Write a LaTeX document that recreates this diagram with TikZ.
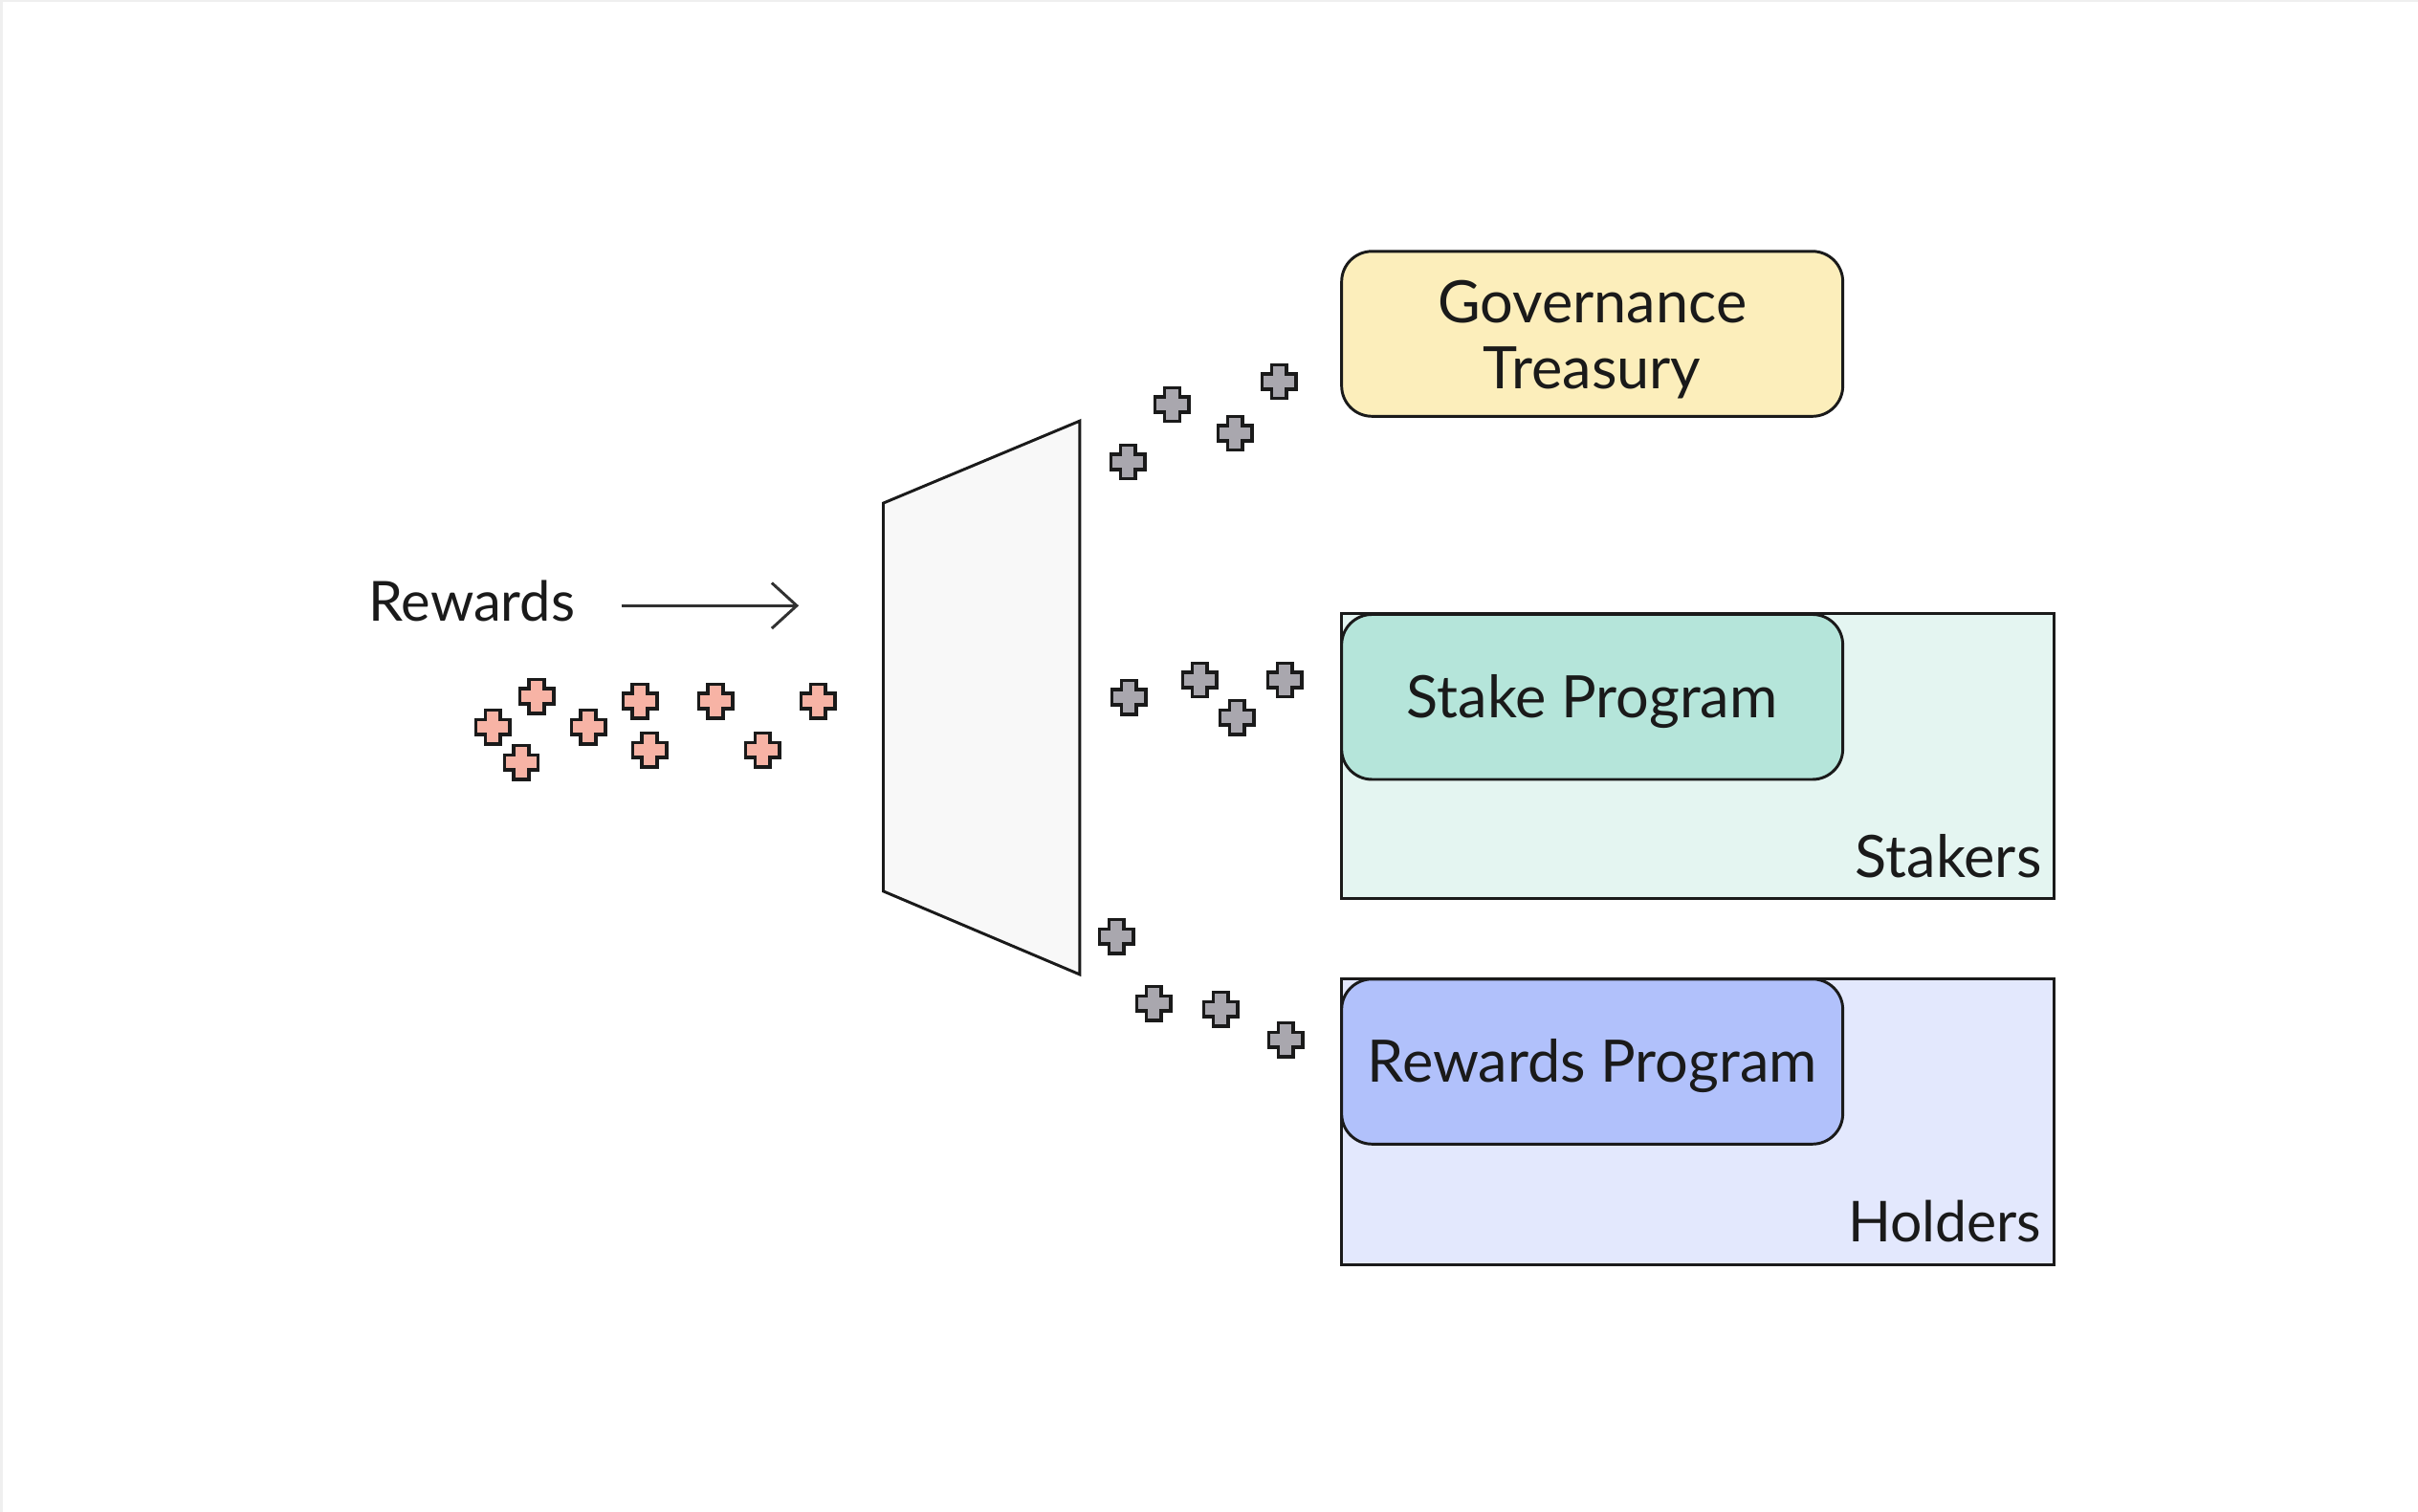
\documentclass[tikz,border=0pt]{standalone}
\usepackage{fontspec}
\setmainfont{Lato}
\usetikzlibrary{arrows.meta}
\definecolor{ink}{HTML}{1A1A1A}
\definecolor{govfill}{HTML}{FCEEBB}
\definecolor{stkouter}{HTML}{E4F5F1}
\definecolor{stkinner}{HTML}{B5E5DA}
\definecolor{holdouter}{HTML}{E3E8FD}
\definecolor{holdinner}{HTML}{B1C1FB}
\definecolor{trapfill}{HTML}{F8F8F8}
\definecolor{redtokfill}{HTML}{F7B3A5}
\definecolor{graytokfill}{HTML}{A9A7AE}
\definecolor{framegray}{HTML}{EFEFEF}
\newcommand{\uu}{1.42264pt}
\tikzset{
  tok/.pic={\path[pic actions] (-4.9,-11) -- (4.9,-11) -- (4.9,-4.9) -- (11,-4.9) -- (11,4.9) -- (4.9,4.9) -- (4.9,11) -- (-4.9,11) -- (-4.9,4.9) -- (-11,4.9) -- (-11,-4.9) -- (-4.9,-4.9) -- cycle;},
  redtok/.style={draw=ink, fill=redtokfill, line width=3pt, line join=miter},
  graytok/.style={draw=ink, fill=graytokfill, line width=3pt, line join=miter},
  progbox/.style={draw=ink, line width=2.6pt, rounded corners=28pt, minimum width=325*\uu, minimum height=107*\uu, inner sep=0pt},
  progtext/.style={inner sep=0pt, align=center, text=ink, font=\fontsize{54pt}{61pt}\selectfont},
  groupbox/.style={draw=ink, line width=2.6pt, minimum width=462*\uu, minimum height=185*\uu, inner sep=0pt},
  lbl/.style={inner sep=0pt, text=ink, font=\fontsize{54pt}{60pt}\selectfont},
  flowarrow/.style={draw=ink!90, line width=2.6pt, -{Straight Barb[length=23pt, width=42pt, line width=2.6pt]}}
}
\begin{document}
\begin{tikzpicture}[x=0.05cm, y=-0.05cm]
\useasboundingbox (0,0) rectangle (1568,980.6);
\fill[white] (0,0) rectangle (1568,980.6);
\fill[framegray] (0,0) rectangle (1.9,980.6);
\fill[framegray] (0,0) rectangle (1568,1.1);

% splitter
\draw[ink, fill=trapfill, line width=2.6pt, line join=miter] (572.8,326.3) -- (700.2,273) -- (700.2,632) -- (572.8,578) -- cycle;

% input label and arrow
\node[lbl, anchor=west, font=\fontsize{51pt}{58pt}\selectfont] (rewlbl) at (239,390) {Rewards};
\coordinate (arrS) at (403,392.8);
\coordinate (arrE) at (518,392.8);
\draw[flowarrow] (arrS) -- (arrE);

% red tokens
\foreach \x/\y in {319.5/471.5, 348/451.6, 338/494.4, 381.5/471.5, 415/454.7, 421.2/486.4, 464/454.7, 494.4/486.4, 530.4/454.7}
  \pic[redtok] at (\x,\y) {tok};

% gray tokens
\foreach \x/\y in {731.4/299.6, 760/262.4, 800.9/281, 829.4/247.5,
                   732/452.2, 777.9/441, 802.1/465.3, 833.1/441,
                   724/607.3, 748.1/650.7, 791.6/654.5, 833.7/674.3}
  \pic[graytok] at (\x,\y) {tok};

% governance treasury
\node[progbox, fill=govfill] (gov) at (1032.5,216.5) {};
\node[progtext] (govtxt) at ([yshift=-5pt]gov.center) {Governance\\Treasury};

% stakers
\node[groupbox, fill=stkouter] (stakers) at (1101,490.5) {};
\node[progbox, fill=stkinner] (stake) at (1032.5,452) {};
\node[progtext] (staketxt) at ([yshift=-4pt]stake.center) {Stake Program};
\node[lbl, anchor=east] (stklbl) at (1324,555) {Stakers};

% holders
\node[groupbox, fill=holdouter] (holders) at (1101,727.5) {};
\node[progbox, fill=holdinner] (rprog) at (1032.5,688.5) {};
\node[progtext] (rprogtxt) at ([yshift=-4pt]rprog.center) {Rewards Program};
\node[lbl, anchor=east, font=\fontsize{52pt}{60pt}\selectfont] (hldlbl) at (1324,792) {Holders};
\end{tikzpicture}
\end{document}
